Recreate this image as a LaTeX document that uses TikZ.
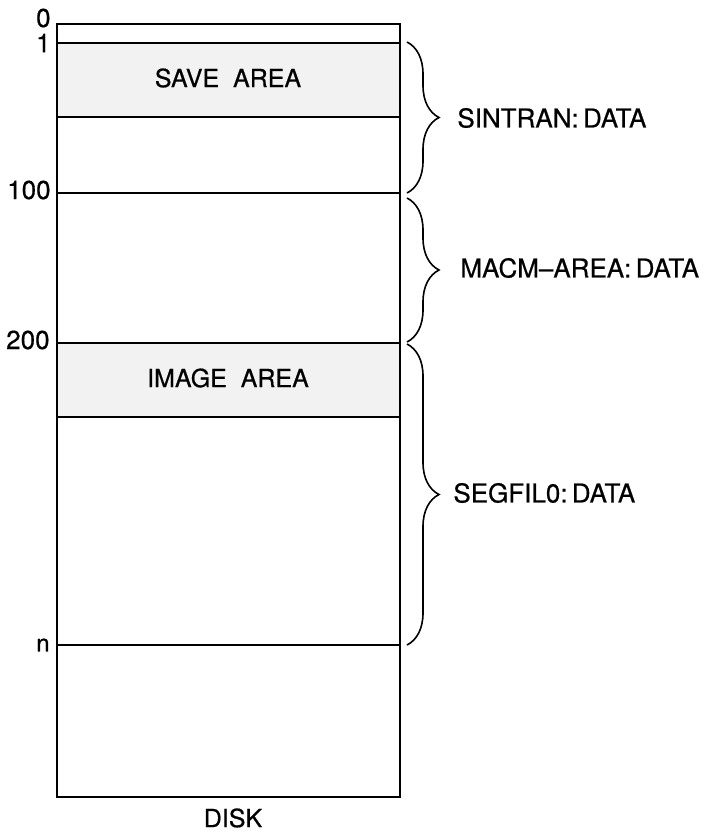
\documentclass[tikz,border=0pt]{standalone}
\usepackage{fontspec}
\setmainfont[FakeBold=0.6]{TeX Gyre Heros}
\usetikzlibrary{decorations.pathreplacing}
\begin{document}
\begin{tikzpicture}[x=0.5pt,y=-0.5pt,
  boxline/.style={line width=1pt},
  area/.style={fill=black!5},
  lbl/.style={font=\fontsize{12.5}{14}\selectfont, inner sep=0pt},
  addr/.style={font=\fontsize{13}{14}\selectfont, anchor=east, inner sep=0pt},
  brc/.style={line width=0.8pt, decorate, decoration={brace, amplitude=16pt}},
  side/.style={font=\fontsize{13}{15}\selectfont, anchor=west, inner sep=0pt}]
\useasboundingbox (0,0) rectangle (709,832);
% shaded areas
\fill[area] (57,43) rectangle (400,117);
\fill[area] (57,343) rectangle (400,417);
% disk outline and separators
\draw[boxline] (57,24) rectangle (400,797);
\draw[boxline] (57,43) -- (400,43);
\draw[boxline] (57,117) -- (400,117);
\draw[boxline] (57,193) -- (400,193);
\draw[boxline] (57,343) -- (400,343);
\draw[boxline] (57,417) -- (400,417);
\draw[boxline] (57,645) -- (400,645);
% area labels
\node[lbl] (save) at (228,78) {SAVE\ \ AREA};
\node[lbl] (image) at (228,378) {IMAGE\ \ AREA};
\node[lbl] (disk) at (233,818) {DISK};
% addresses
\node[addr] (a0) at (51,18) {0};
\node[addr] (a1) at (51,43) {1};
\node[addr] (a100) at (51,190) {100};
\node[addr] (a200) at (50,340) {200};
\node[addr, font=\fontsize{12}{13}\selectfont] (an) at (50,645) {n};
% braces
\coordinate (s1) at (407,42);
\coordinate (s2) at (407,193);
\coordinate (m1) at (407,198);
\coordinate (m2) at (407,342);
\coordinate (g1) at (407,344);
\coordinate (g2) at (407,645);
\draw[brc] (s1) -- (s2);
\draw[brc] (m1) -- (m2);
\draw[brc] (g1) -- (g2);
\node[side] (sintran) at (457,118) {SINTRAN:\,DATA};
\node[side] (macm) at (460,268) {MACM–AREA:\,DATA};
\node[side] (segfil) at (453,493) {SEGFIL0:\,DATA};
\end{tikzpicture}
\end{document}
